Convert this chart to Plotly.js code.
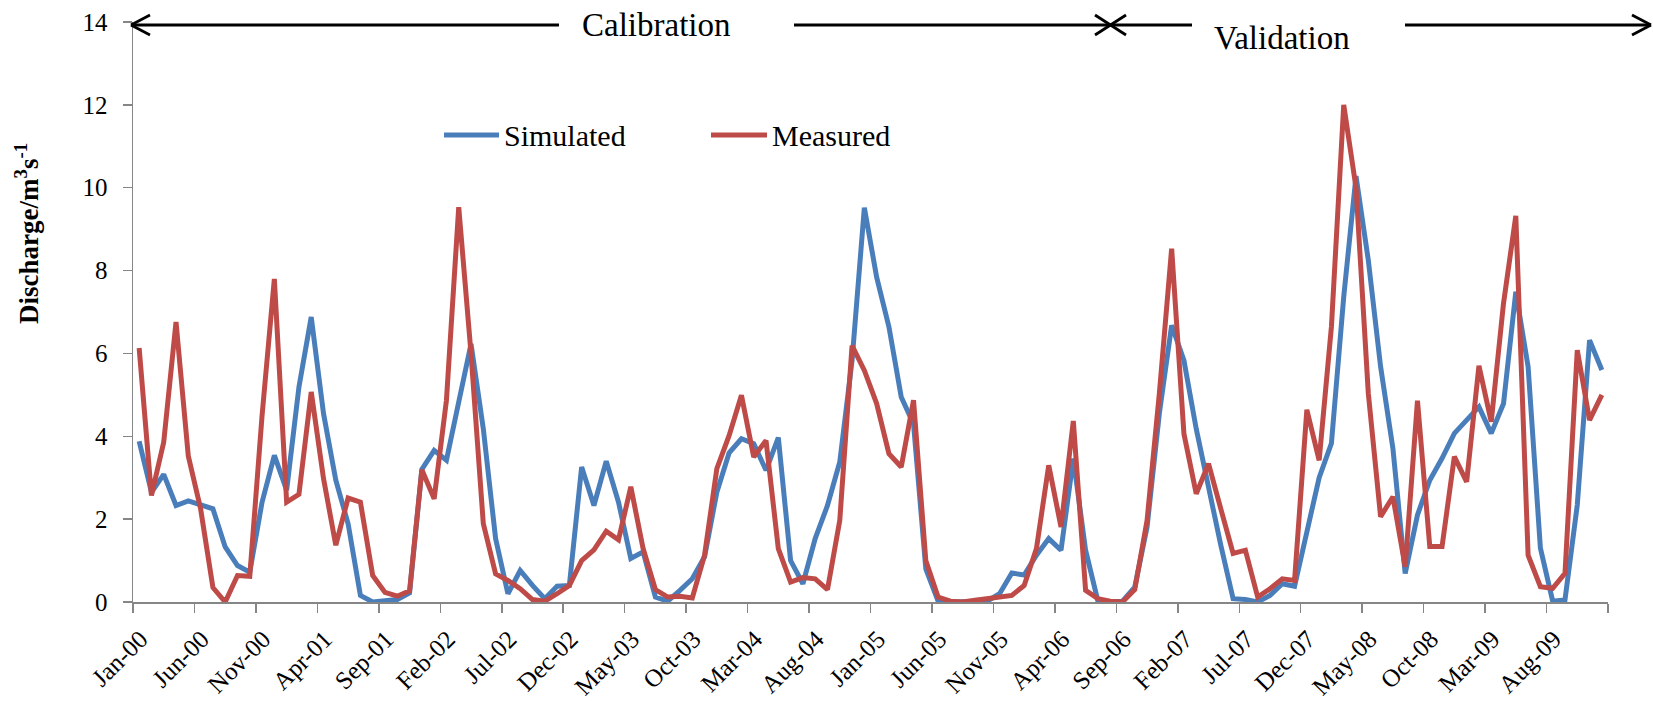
<!DOCTYPE html>
<html>
<head>
<meta charset="utf-8">
<script src="https://cdn.plot.ly/plotly-3.0.1.min.js"></script>
<style>html,body{margin:0;padding:0;background:#fff;}#chart{width:1653px;height:701px;}</style>
</head>
<body>
<div id="chart"></div>
<script>
const months = [
 "Jan-00","Feb-00","Mar-00","Apr-00","May-00","Jun-00","Jul-00","Aug-00","Sep-00","Oct-00","Nov-00","Dec-00",
 "Jan-01","Feb-01","Mar-01","Apr-01","May-01","Jun-01","Jul-01","Aug-01","Sep-01","Oct-01","Nov-01","Dec-01",
 "Jan-02","Feb-02","Mar-02","Apr-02","May-02","Jun-02","Jul-02","Aug-02","Sep-02","Oct-02","Nov-02","Dec-02",
 "Jan-03","Feb-03","Mar-03","Apr-03","May-03","Jun-03","Jul-03","Aug-03","Sep-03","Oct-03","Nov-03","Dec-03",
 "Jan-04","Feb-04","Mar-04","Apr-04","May-04","Jun-04","Jul-04","Aug-04","Sep-04","Oct-04","Nov-04","Dec-04",
 "Jan-05","Feb-05","Mar-05","Apr-05","May-05","Jun-05","Jul-05","Aug-05","Sep-05","Oct-05","Nov-05","Dec-05",
 "Jan-06","Feb-06","Mar-06","Apr-06","May-06","Jun-06","Jul-06","Aug-06","Sep-06","Oct-06","Nov-06","Dec-06",
 "Jan-07","Feb-07","Mar-07","Apr-07","May-07","Jun-07","Jul-07","Aug-07","Sep-07","Oct-07","Nov-07","Dec-07",
 "Jan-08","Feb-08","Mar-08","Apr-08","May-08","Jun-08","Jul-08","Aug-08","Sep-08","Oct-08","Nov-08","Dec-08",
 "Jan-09","Feb-09","Mar-09","Apr-09","May-09","Jun-09","Jul-09","Aug-09","Sep-09","Oct-09","Nov-09","Dec-09"
];

const simulated = [
 3.88,2.65,3.08,2.33,2.44,2.35,2.25,1.33,0.88,0.72,2.41,3.54,
 2.70,5.19,6.88,4.55,2.94,1.89,0.16,0.00,0.02,0.06,0.22,3.20,
 3.66,3.42,4.83,6.23,4.18,1.53,0.20,0.76,0.40,0.08,0.38,0.40,
 3.26,2.33,3.40,2.41,1.05,1.21,0.12,0.02,0.28,0.56,1.09,2.65,
 3.60,3.94,3.82,3.18,3.97,1.00,0.44,1.53,2.33,3.38,5.83,9.52,
 7.84,6.64,4.95,4.30,0.80,0.02,0.00,0.00,0.00,0.02,0.20,0.70,
 0.65,1.13,1.53,1.25,3.46,1.25,0.02,0.00,0.02,0.36,1.81,4.55,
 6.68,5.83,4.18,2.70,1.37,0.08,0.06,0.00,0.16,0.44,0.38,1.69,
 3.00,3.83,7.37,10.28,8.25,5.68,3.71,0.69,2.10,2.94,3.47,4.07,
 4.39,4.71,4.07,4.79,7.49,5.68,1.30,0.02,0.05,2.34,6.32,5.60
];

const measured = [
 6.13,2.57,3.86,6.76,3.52,2.25,0.35,0.00,0.64,0.62,4.50,7.80,
 2.41,2.60,5.07,2.98,1.37,2.51,2.41,0.64,0.23,0.14,0.27,3.19,
 2.49,4.87,9.53,6.00,1.89,0.68,0.52,0.32,0.06,0.02,0.20,0.40,
 1.00,1.26,1.71,1.50,2.78,1.29,0.30,0.12,0.14,0.10,1.13,3.22,
 4.02,4.99,3.50,3.90,1.29,0.48,0.59,0.56,0.30,1.97,6.19,5.59,
 4.79,3.58,3.26,4.87,1.00,0.12,0.02,0.00,0.04,0.08,0.14,0.16,
 0.40,1.29,3.30,1.81,4.37,0.28,0.08,0.02,0.00,0.30,1.97,5.03,
 8.53,4.06,2.61,3.34,2.25,1.17,1.25,0.12,0.32,0.56,0.52,4.64,
 3.42,6.65,12.00,10.00,5.04,2.06,2.54,0.85,4.86,1.34,1.34,3.51,
 2.90,5.70,4.35,7.21,9.32,1.13,0.37,0.33,0.69,6.08,4.39,5.00
];

const tickLabels = ["Jan-00","Jun-00","Nov-00","Apr-01","Sep-01","Feb-02","Jul-02","Dec-02",
 "May-03","Oct-03","Mar-04","Aug-04","Jan-05","Jun-05","Nov-05","Apr-06","Sep-06","Feb-07",
 "Jul-07","Dec-07","May-08","Oct-08","Mar-09","Aug-09"];

const seriesNames = ["Simulated", "Measured"];
const periodLabels = ["Calibration", "Validation"];

// ---- layout helpers (pixel -> paper) ----
const W = 1653, H = 701;
const M = {l: 133, r: 45, t: 22, b: 99};
const PW = W - M.l - M.r, PH = H - M.t - M.b;
const px = v => (v - M.l) / PW;
const py = v => (H - M.b - v) / PH;

const xIdx = months.map((m, i) => i);
// labels sit just right of their month boundary; tick marks on the boundaries
const labelVals = tickLabels.map(t => months.indexOf(t) + 0.1);
const boundaryVals = tickLabels.map(t => months.indexOf(t) - 0.5).concat([months.length - 0.5]);

const FONT = "Liberation Serif, Times New Roman, serif";
const BLUE = "#4A7EBB", RED = "#BE4B48";

const traces = [
 {x: xIdx, y: simulated, name: seriesNames[0], type: "scatter", mode: "lines",
  line: {color: BLUE, width: 5}},
 {x: xIdx, y: measured, name: seriesNames[1], type: "scatter", mode: "lines",
  line: {color: RED, width: 5}}
];

function seg(x0, y0, x1, y1, color, width) {
  return {type: "line", xref: "paper", yref: "paper",
    x0: px(x0), y0: py(y0), x1: px(x1), y1: py(y1),
    line: {color: color || "#000", width: width || 2.8}};
}

const AY = 25;
const shapes = [
  // top arrow line with gaps for text
  seg(131, AY, 559, AY), seg(794, AY, 1192, AY), seg(1405, AY, 1651, AY),
  // left arrowhead
  seg(131, AY, 150, AY - 10), seg(131, AY, 150, AY + 10),
  // right arrowhead
  seg(1651, AY, 1632, AY - 10), seg(1651, AY, 1632, AY + 10),
  // crossing arrowheads between calibration and validation
  seg(1095, AY - 10, 1126, AY + 10), seg(1095, AY + 10, 1126, AY - 10),
  // legend samples
  seg(444, 135, 499, 135, BLUE, 5), seg(711, 135, 767, 135, RED, 5)
];

const annotations = [
  {text: periodLabels[0], xref: "paper", yref: "paper", x: px(656), y: py(25),
   xanchor: "center", yanchor: "middle", showarrow: false, font: {family: FONT, size: 33, color: "#000"}},
  {text: periodLabels[1], xref: "paper", yref: "paper", x: px(1282), y: py(38),
   xanchor: "center", yanchor: "middle", showarrow: false, font: {family: FONT, size: 33, color: "#000"}},
  {text: seriesNames[0], xref: "paper", yref: "paper", x: px(502), y: py(135),
   xanchor: "left", yanchor: "middle", showarrow: false, font: {family: FONT, size: 30, color: "#000"}},
  {text: seriesNames[1], xref: "paper", yref: "paper", x: px(770), y: py(135),
   xanchor: "left", yanchor: "middle", showarrow: false, font: {family: FONT, size: 30, color: "#000"}},
  {text: "<b>Discharge/m<sup>3</sup>s<sup>-1</sup></b>", xref: "paper", yref: "paper",
   x: px(27), y: py(233), xanchor: "center", yanchor: "middle", textangle: -90,
   showarrow: false, font: {family: FONT, size: 27, color: "#000"}}
];

const layout = {
  width: W, height: H,
  margin: M,
  paper_bgcolor: "#fff", plot_bgcolor: "#fff",
  showlegend: false,
  font: {family: FONT, size: 24, color: "#000"},
  xaxis: {
    range: [-0.5, months.length - 0.5], tickmode: "array", tickvals: labelVals, ticktext: tickLabels,
    tickangle: -45, ticks: "", ticklabelstandoff: 11,
    minor: {tickmode: "array", tickvals: boundaryVals, ticks: "outside", ticklen: 9,
            tickwidth: 1.5, tickcolor: "#868686", showgrid: false},
    showline: true, linecolor: "#868686", linewidth: 1.5, showgrid: false, zeroline: false,
    tickfont: {family: FONT, size: 25, color: "#000"}
  },
  yaxis: {
    range: [0, 14], tickmode: "linear", tick0: 0, dtick: 2,
    ticks: "outside", ticklen: 9, tickwidth: 1.5, tickcolor: "#868686",
    showline: true, linecolor: "#868686", linewidth: 1.5, showgrid: false, zeroline: false,
    ticklabelstandoff: 10,
    tickfont: {family: FONT, size: 25, color: "#000"}
  },
  shapes: shapes,
  annotations: annotations
};

Plotly.newPlot("chart", traces, layout, {displayModeBar: false, staticPlot: true});
</script>
</body>
</html>
